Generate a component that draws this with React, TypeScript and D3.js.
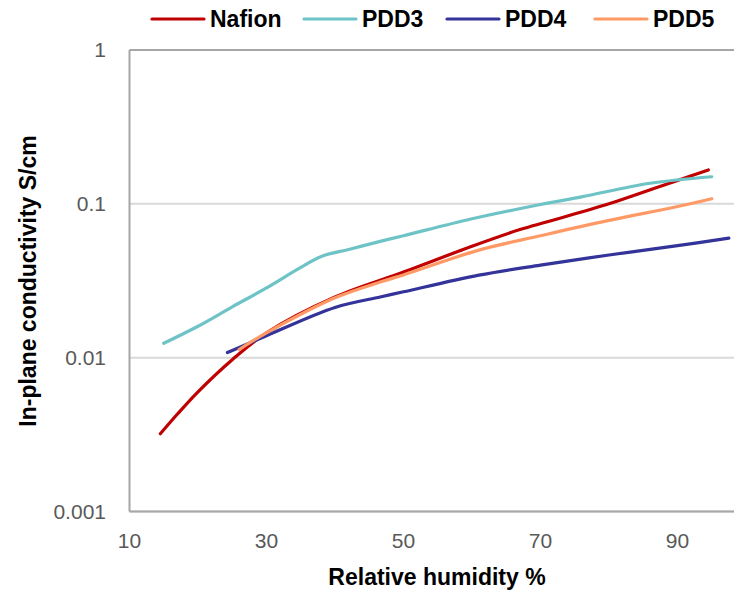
import React from "react";
import * as d3 from "d3";

const W = 734;
const H = 591;

const xTicks = [10, 30, 50, 70, 90];
const yTicks = [0.001, 0.01, 0.1, 1];
const yTickLabels = ["0.001", "0.01", "0.1", "1"];

const seriesNames = ["Nafion", "PDD3", "PDD4", "PDD5"];
const seriesColors = ["#C00000", "#6EC3C6", "#33339A", "#FF9A66"];

const nafionRH = [14.5, 17, 20, 25, 30, 40, 50, 60, 67, 71, 80, 90, 94.5];
const nafionVal = [0.0032, 0.0043, 0.006, 0.0097, 0.0145, 0.0248, 0.036, 0.053, 0.068, 0.0765, 0.1, 0.142, 0.166];

const pdd3RH = [15, 20, 25, 30, 35, 38, 42, 46.6, 50, 60, 70, 76, 86, 95];
const pdd3Val = [0.0124, 0.016, 0.0214, 0.0284, 0.0386, 0.0455, 0.0505, 0.057, 0.062, 0.08, 0.099, 0.111, 0.136, 0.15];

const pdd4RH = [24.3, 30, 40, 46.6, 50, 61, 70, 80, 90, 97.5];
const pdd4Val = [0.0108, 0.0139, 0.0212, 0.0248, 0.0268, 0.0344, 0.04, 0.0465, 0.0535, 0.0598];

const pdd5RH = [26, 30, 40, 46.6, 50, 61, 70, 80, 90, 95];
const pdd5Val = [0.0113, 0.0145, 0.0245, 0.031, 0.0345, 0.05, 0.062, 0.078, 0.096, 0.108];

const seriesRH = [nafionRH, pdd3RH, pdd4RH, pdd5RH];
const seriesVal = [nafionVal, pdd3Val, pdd4Val, pdd5Val];

export default function App() {
  const x = d3.scaleLinear().domain([10, 100]).range([129.5, 746]);
  const y = d3.scaleLog().domain([0.001, 1]).range([511.5, 50]);
  const line = d3
    .line<[number, number]>()
    .x((d) => x(d[0]))
    .y((d) => y(d[1]))
    .curve(d3.curveCatmullRom.alpha(0.5));

  const legendX = [152, 304, 447, 595];
  const font = "'Liberation Sans', Arial, sans-serif";

  return (
    <svg
      width={W}
      height={H}
      style={{ position: "absolute", left: 0, top: 0, background: "#fff" }}
      fontFamily={font}
    >
      <rect x={0} y={0} width={W} height={H} fill="#fff" />
      {yTicks.map((t) => (
        <line
          key={"g" + t}
          x1={x(10)}
          x2={W}
          y1={y(t)}
          y2={y(t)}
          stroke={t === 1 ? "#a6a6a6" : "#d9d9d9"}
          strokeWidth={2}
        />
      ))}
      <line x1={x(10)} x2={W} y1={y(0.001)} y2={y(0.001)} stroke="#a6a6a6" strokeWidth={2} />
      <line x1={x(10)} x2={x(10)} y1={y(1)} y2={y(0.001)} stroke="#a6a6a6" strokeWidth={2} />
      {yTicks.map((t, i) => (
        <text
          key={"yl" + t}
          x={106}
          y={y(t)}
          dy="0.35em"
          textAnchor="end"
          fontSize={21}
          fill="#595959"
        >
          {yTickLabels[i]}
        </text>
      ))}
      {xTicks.map((t) => (
        <text
          key={"xl" + t}
          x={x(t)}
          y={548}
          textAnchor="middle"
          fontSize={21}
          fill="#595959"
        >
          {t}
        </text>
      ))}
      {seriesNames.map((n, i) => {
        const pts = seriesRH[i].map((r, j) => [r, seriesVal[i][j]] as [number, number]);
        return (
          <path
            key={n}
            d={line(pts) || ""}
            fill="none"
            stroke={seriesColors[i]}
            strokeWidth={3.2}
            strokeLinecap="round"
            strokeLinejoin="round"
          />
        );
      })}
      <text
        x={437}
        y={585}
        textAnchor="middle"
        fontSize={23}
        fontWeight="bold"
        fill="#000"
      >
        Relative humidity %
      </text>
      <text
        transform={`translate(36, 281) rotate(-90)`}
        textAnchor="middle"
        fontSize={23}
        fontWeight="bold"
        fill="#000"
      >
        In-plane conductivity S/cm
      </text>
      {seriesNames.map((n, i) => (
        <g key={"lg" + n}>
          <line
            x1={legendX[i]}
            x2={legendX[i] + 52}
            y1={19}
            y2={19}
            stroke={seriesColors[i]}
            strokeWidth={3.2}
            strokeLinecap="round"
          />
          <text x={legendX[i] + 58} y={27} fontSize={23} fontWeight="bold" fill="#000">
            {n}
          </text>
        </g>
      ))}
    </svg>
  );
}
